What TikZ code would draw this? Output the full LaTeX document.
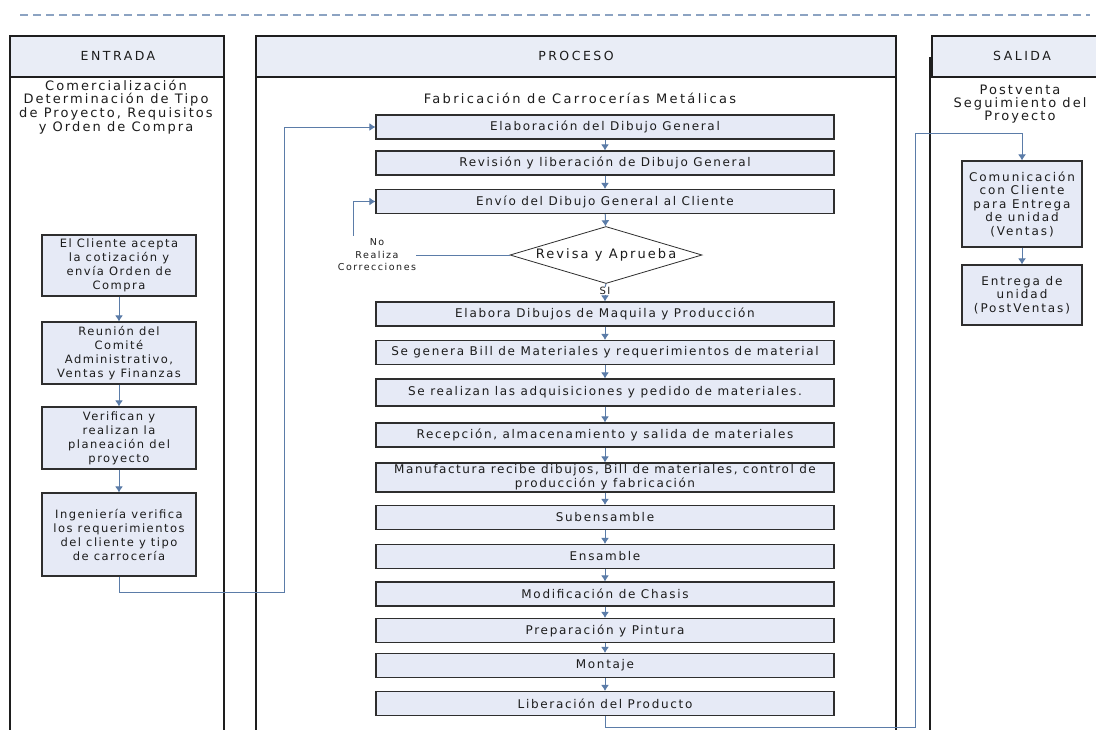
\documentclass[tikz,border=0pt]{standalone}
\usepackage{fontspec}
\setmainfont{DejaVu Sans}[LetterSpace=14]
\newfontfamily\headfont{DejaVu Sans}[LetterSpace=20]
\newfontfamily\wideface{DejaVu Sans}[LetterSpace=16]
\newfontfamily\titleface{DejaVu Sans}[LetterSpace=18]
\newfontfamily\boxface{DejaVu Sans}[LetterSpace=13]
\usetikzlibrary{arrows.meta,shapes.geometric,calc}
\definecolor{boxfill}{HTML}{E6EAF6}
\definecolor{headfill}{HTML}{E9EDF6}
\definecolor{flow}{HTML}{5B7CA8}
\definecolor{edge}{HTML}{2E2E2E}
\definecolor{lane}{HTML}{1E1E1E}
\definecolor{ink}{HTML}{1C1C1C}
\begin{document}
\begin{tikzpicture}[x=1pt,y=-1pt,
  font=\fontsize{12}{14}\selectfont, text=ink,
  lanebox/.style={draw=lane, line width=1.2pt},
  headbox/.style={draw=lane, line width=1.2pt, fill=headfill},
  stepbox/.style={draw=edge, line width=1.2pt, fill=boxfill, minimum width=458pt,
                  minimum height=24pt, inner sep=1pt, align=center},
  sidebox/.style={draw=edge, line width=1.2pt, fill=boxfill, inner sep=1pt, align=center},
  flowline/.style={draw=flow, line width=1pt},
  flowarrow/.style={flowline, -{Latex[length=6pt,width=8pt]}},
  lbl/.style={align=center, inner sep=0pt}]
\useasboundingbox (0,0) rectangle (1096,729);
\clip (0,0) rectangle (1096,729);
\fill[white] (0,0) rectangle (1096,729);

% dashed rule along the top
\draw[draw=flow!70, line width=1.4pt, dash pattern=on 8pt off 5pt] (20,15) -- (1090,15);

% swim lanes
\draw[lanebox] (10,36) -- (10,740) (224,36) -- (224,740);
\draw[headbox] (10,36) rectangle (224,77);
\draw[lanebox] (256,36) -- (256,740) (896,36) -- (896,740);
\draw[headbox] (256,36) rectangle (896,77);
\draw[lanebox] (930,57) -- (930,740);
\draw[headbox] (932,36) rectangle (1110,77);

\begin{scope}[every node/.append style={font=\headfont\fontsize{12.5}{14}\selectfont}]
\node[lbl] (hin)  at (118,56)  {ENTRADA};
\node[lbl] (hpro) at (576,56)  {PROCESO};
\node[lbl] (hout) at (1022,56) {SALIDA};
\end{scope}

\node[lbl, font=\wideface\fontsize{13}{13.8}\selectfont] (tin) at (116,107)
  {Comercialización\\Determinación de Tipo\\de Proyecto, Requisitos\\y Orden de Compra};
\node[lbl, font=\titleface\fontsize{13}{14}\selectfont] (tpro) at (580,98)
  {Fabricación de Carrocerías Metálicas};
\node[lbl, font=\wideface\fontsize{13}{12.8}\selectfont] (tout) at (1020,104)
  {Postventa\\Seguimiento del\\Proyecto};

% ENTRADA steps
\begin{scope}[every node/.style={sidebox, minimum width=154pt, font=\boxface\fontsize{11.5}{14}\selectfont}]
\node[minimum height=61pt] (e1) at (119,265.5) {El Cliente acepta\\la cotización y\\envía Orden de\\Compra};
\node[minimum height=62pt] (e2) at (119,353) {Reunión del\\Comité\\Administrativo,\\Ventas y Finanzas};
\node[minimum height=62pt] (e3) at (119,438) {Verifican y\\realizan la\\planeación del\\proyecto};
\node[minimum height=83pt] (e4) at (119,534.5) {Ingeniería verifica\\los requerimientos\\del cliente y tipo\\de carrocería};
\end{scope}

% PROCESO steps
\node[stepbox] (p1) at (605,127) {Elaboración del Dibujo General};
\node[stepbox] (p2) at (605,163) {Revisión y liberación de Dibujo General};
\node[stepbox] (p3) at (605,201.5) {Envío del Dibujo General al Cliente};
\node[diamond, draw=edge, line width=0.8pt, fill=white, aspect=3.5, inner sep=0pt,
      minimum width=192pt, minimum height=57pt, font=\wideface\fontsize{13}{14}\selectfont]
      (d) at (606,255) {Revisa y Aprueba};
\node[lbl, font=\wideface\fontsize{9.5}{12.5}\selectfont] (nolab) at (377,255) {No\\Realiza\\Correcciones};
\node[lbl, font=\fontsize{10}{10}\selectfont] (si) at (605,291) {SI};
\node[stepbox] (p4) at (605,314) {Elabora Dibujos de Maquila y Producción};
\node[stepbox] (p5) at (605,352.5) {Se genera Bill de Materiales y requerimientos de material};
\node[stepbox, minimum height=27pt] (p6) at (605,392.5) {Se realizan las adquisiciones y pedido de materiales.};
\node[stepbox] (p7) at (605,435) {Recepción, almacenamiento y salida de materiales};
\node[stepbox, minimum height=29pt, font=\boxface\fontsize{12}{14}\selectfont] (p8) at (605,477.5)
  {Manufactura recibe dibujos, Bill de materiales, control de\\producción y fabricación};
\node[stepbox] (p9) at (605,517.5) {Subensamble};
\node[stepbox] (p10) at (605,556.5) {Ensamble};
\node[stepbox] (p11) at (605,594) {Modificación de Chasis};
\node[stepbox] (p12) at (605,630.5) {Preparación y Pintura};
\node[stepbox] (p13) at (605,665.5) {Montaje};
\node[stepbox] (p14) at (605,703.5) {Liberación del Producto};

% SALIDA steps
\begin{scope}[every node/.style={sidebox, minimum width=120pt, font=\wideface\fontsize{12}{13.5}\selectfont}]
\node[minimum height=86pt] (s1) at (1022,204)
  {Comunicación\\con Cliente\\para Entrega\\de unidad\\(Ventas)};
\node[minimum height=60pt] (s2) at (1022,295)
  {Entrega de\\unidad\\(PostVentas)};
\end{scope}

% bend points of the long connectors
\coordinate (ja) at (284,592);
\coordinate (jb) at (915,727);
\coordinate (jc) at (915,133);

% connectors
\draw[flowarrow] (e1) -- (e2);
\draw[flowarrow] (e2) -- (e3);
\draw[flowarrow] (e3) -- (e4);
\draw[flowarrow] (e4.south) |- (ja) |- (p1.west);

\draw[flowarrow] (p1) -- (p2);
\draw[flowarrow] (p2) -- (p3);
\draw[flowarrow] (p3) -- (d);
\draw[flowline] (d.west) -- (nolab.east);
\draw[flowarrow] ($(nolab.north)+(-24,-3)$) |- (p3.west);
\draw[flowline] (d.south) -- (si.north);
\draw[flowarrow] (si.south) -- (p4.north);
\foreach \a/\b in {p4/p5,p5/p6,p6/p7,p7/p8,p8/p9,p9/p10,p10/p11,p11/p12,p12/p13,p13/p14}
  \draw[flowarrow] (\a) -- (\b);
\draw[flowarrow] (p14.south) |- (jb) -- (jc) -| (s1.north);
\draw[flowarrow] (s1) -- (s2);
\end{tikzpicture}
\end{document}
